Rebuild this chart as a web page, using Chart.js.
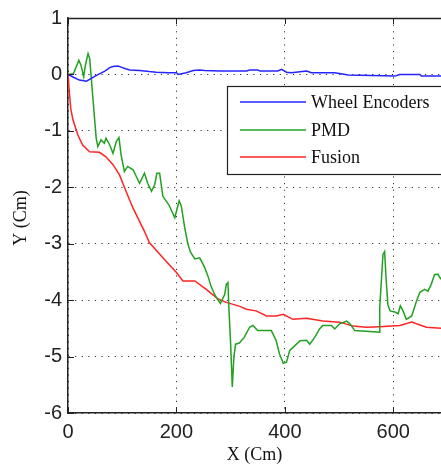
<!DOCTYPE html>
<html>
<head>
<meta charset="utf-8">
<script src="https://cdn.jsdelivr.net/npm/chart.js@4/dist/chart.umd.min.js"></script>
<style>
html,body{margin:0;padding:0;background:#fff;}
canvas{display:block;}
</style>
</head>
<body>
<canvas id="c" width="441" height="468"></canvas>
<script>
// ---- data ----
const seriesNames = ['Wheel Encoders', 'PMD', 'Fusion'];
const xTicks = [0, 200, 400, 600];
const yTicks = [-6, -5, -4, -3, -2, -1, 0, 1];

const wheelX = [0,10,21,34,43,50,58,68,77,83,92,98,106,114,132,150,163,185,200,203,218,231,243,252,280,330,335,350,354,387,394,403,412,440,449,492,517,560,603,612,649,652,688];
const wheelY = [0,-0.05,-0.1,-0.12,-0.07,-0.03,0.01,0.06,0.12,0.14,0.15,0.13,0.1,0.08,0.07,0.05,0.04,0.03,0.03,0,0.03,0.07,0.08,0.07,0.06,0.06,0.08,0.08,0.06,0.06,0.09,0.04,0.03,0.06,0.03,0.03,-0.01,-0.02,-0.03,0,0,-0.03,-0.03];

const pmdX = [0,10,20,24,29,32,37,40,43,46,49,52,55,61,67,70,77,83,89,94,98,104,110,120,132,141,147,154,160,164,169,175,186,197,205,209,215,221,226,234,243,252,258,264,272,281,289,292,295,297,300,303,306,309,316,325,335,341,350,375,384,390,397,403,409,418,428,440,446,455,464,470,486,492,501,514,520,529,563,574,575,578,581,584,587,590,594,603,609,613,618,624,634,643,649,658,664,670,676,682,688];
const pmdY = [0,0.01,0.25,0.16,-0.04,0.16,0.37,0.28,-0.07,-0.43,-0.78,-1.13,-1.28,-1.16,-1.22,-1.13,-1.25,-1.4,-1.19,-1.12,-1.43,-1.72,-1.63,-1.69,-1.93,-1.75,-1.93,-2.07,-1.95,-1.75,-1.75,-2.16,-2.31,-2.54,-2.24,-2.33,-2.7,-3.0,-3.15,-3.27,-3.25,-3.42,-3.57,-3.76,-3.93,-4.06,-3.9,-3.72,-3.69,-4.19,-4.78,-5.54,-5.01,-4.78,-4.76,-4.66,-4.48,-4.45,-4.54,-4.54,-4.72,-4.95,-5.12,-5.1,-4.89,-4.81,-4.72,-4.71,-4.78,-4.66,-4.51,-4.45,-4.45,-4.51,-4.42,-4.37,-4.42,-4.54,-4.56,-4.57,-4.13,-3.66,-3.19,-3.14,-3.66,-4.08,-4.19,-4.21,-4.24,-4.1,-4.19,-4.34,-4.28,-4.01,-3.86,-3.81,-3.84,-3.72,-3.55,-3.54,-3.63];

const fusionX = [0,2,5,9,18,27,40,58,70,83,95,107,120,141,150,175,200,212,234,255,277,292,317,329,347,366,384,397,415,440,470,501,526,550,575,612,634,661,688];
const fusionY = [0,-0.25,-0.6,-0.8,-1.07,-1.25,-1.37,-1.38,-1.46,-1.6,-1.78,-2.07,-2.37,-2.78,-2.98,-3.25,-3.51,-3.66,-3.66,-3.81,-3.98,-4.04,-4.11,-4.16,-4.19,-4.28,-4.28,-4.25,-4.34,-4.32,-4.37,-4.39,-4.46,-4.48,-4.47,-4.45,-4.39,-4.48,-4.5];

const xTitle = 'X (Cm)';
const yTitle = 'Y (Cm)';

// ---- build ----
const zip = (xs, ys) => xs.map((x, i) => ({x: x, y: ys[i]}));
const colors = ['#2424ff', '#22a022', '#ff2424'];
const seriesData = [zip(wheelX, wheelY), zip(pmdX, pmdY), zip(fusionX, fusionY)];

const tickFont = {family: '"Liberation Sans", Arial, sans-serif', size: 20};
const serif = '"Liberation Serif", "Times New Roman", serif';

const decor = {
  id: 'decor',
  afterDraw(chart) {
    const ctx = chart.ctx;
    const a = chart.chartArea;
    const xs = chart.scales.x, ys = chart.scales.y;
    ctx.save();
    // top border
    ctx.strokeStyle = '#222';
    ctx.lineWidth = 1.5;
    ctx.beginPath();
    ctx.moveTo(a.left, a.top + 0.5);
    ctx.lineTo(a.right, a.top + 0.5);
    ctx.stroke();
    // inward tick marks
    ctx.lineWidth = 1;
    ctx.beginPath();
    yTicks.forEach(v => {
      const py = Math.round(ys.getPixelForValue(v)) + 0.5;
      ctx.moveTo(a.left, py); ctx.lineTo(a.left + 6, py);
    });
    xTicks.forEach(v => {
      const px = Math.round(xs.getPixelForValue(v)) + 0.5;
      ctx.moveTo(px, a.bottom); ctx.lineTo(px, a.bottom - 6);
      ctx.moveTo(px, a.top); ctx.lineTo(px, a.top + 6);
    });
    ctx.stroke();
    // legend box
    const bx = 227.5, by = 86.5, bh = 88;
    ctx.fillStyle = '#fff';
    ctx.fillRect(bx, by, 250, bh);
    ctx.strokeStyle = '#222';
    ctx.lineWidth = 1.2;
    ctx.strokeRect(bx, by, 250, bh);
    const rows = [102, 130, 157];
    ctx.font = '18px ' + serif;
    ctx.textBaseline = 'middle';
    ctx.textAlign = 'left';
    chart.data.datasets.forEach((ds, i) => {
      ctx.strokeStyle = ds.borderColor;
      ctx.lineWidth = 1.5;
      ctx.beginPath();
      ctx.moveTo(240, rows[i]); ctx.lineTo(306, rows[i]);
      ctx.stroke();
      ctx.fillStyle = '#111';
      ctx.fillText(ds.label, 311, rows[i] + 1);
    });
    // axis titles
    ctx.font = '18px ' + serif;
    ctx.fillStyle = '#111';
    ctx.textAlign = 'center';
    ctx.textBaseline = 'middle';
    ctx.fillText(xTitle, (a.left + a.right) / 2, 455);
    ctx.translate(21, 218);
    ctx.rotate(-Math.PI / 2);
    ctx.fillText(yTitle, 0, 0);
    ctx.restore();
  }
};

new Chart(document.getElementById('c'), {
  type: 'line',
  data: {
    datasets: seriesNames.map((n, i) => ({
      label: n,
      data: seriesData[i],
      borderColor: colors[i],
      backgroundColor: colors[i],
      borderWidth: 1.5,
      pointRadius: 0,
      tension: 0,
      fill: false
    }))
  },
  options: {
    responsive: false,
    animation: false,
    devicePixelRatio: 1,
    layout: {padding: {top: 16, right: 0, left: 0, bottom: 0}},
    plugins: {legend: {display: false}, tooltip: {enabled: false}},
    scales: {
      x: {
        type: 'linear',
        min: 0, max: 688,
        afterBuildTicks: s => { s.ticks = xTicks.map(v => ({value: v})); },
        afterFit: s => { s.height = 55; },
        ticks: {font: tickFont, color: '#222', padding: 7, maxRotation: 0, autoSkip: false},
        grid: {color: '#333', lineWidth: 1, drawTicks: false},
        border: {display: true, color: '#222', width: 1.5, dash: [1.2, 5.4]}
      },
      y: {
        type: 'linear',
        min: -6, max: 1,
        afterBuildTicks: s => { s.ticks = yTicks.map(v => ({value: v})); },
        afterFit: s => { s.width = 68; },
        ticks: {font: tickFont, color: '#222', padding: 6, autoSkip: false},
        grid: {color: '#333', lineWidth: 1, drawTicks: false},
        border: {display: true, color: '#222', width: 1.5, dash: [1.2, 5.4]}
      }
    }
  },
  plugins: [decor]
});
</script>
</body>
</html>
